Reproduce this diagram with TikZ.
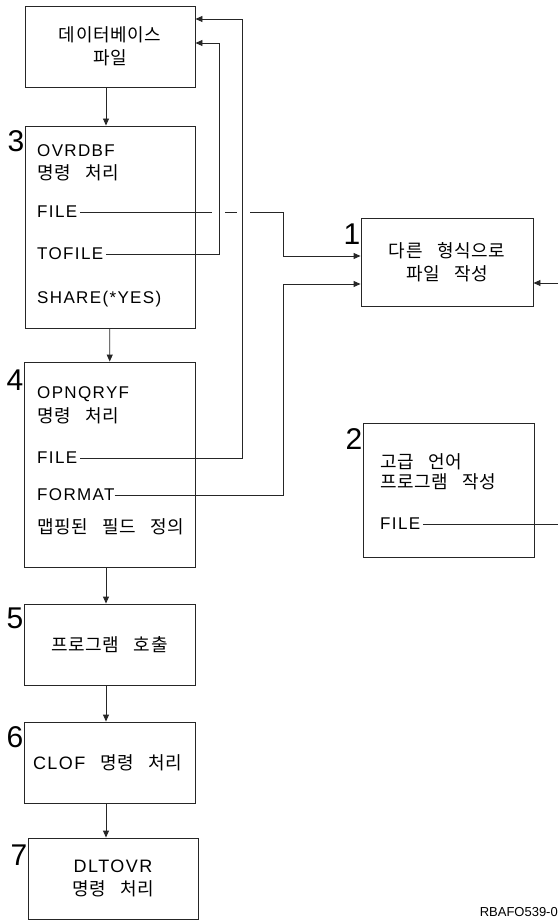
\documentclass[tikz,border=0pt]{standalone}
\usepackage{fontspec}
\setmainfont{Liberation Sans}[LetterSpace=8]
\newfontfamily\kr{Noto Sans CJK KR}[LetterSpace=3,WordSpace=3.2]
\newfontfamily\numfont{Liberation Sans}
\usetikzlibrary{arrows.meta,positioning,calc}
\tikzset{
  box/.style={draw=black!85, line width=0.9pt, minimum width=170pt, minimum height=81pt, inner sep=0pt, align=center, font=\kr\fontsize{18}{23}\selectfont},
  txt/.style={anchor=west, inner xsep=3pt, inner ysep=0pt, font=\fontsize{17}{20}\selectfont},
  krtxt/.style={anchor=west, inner xsep=3pt, inner ysep=0pt, font=\kr\fontsize{18}{20}\selectfont},
  numlab/.style={anchor=base east, inner sep=0pt, font=\numfont\fontsize{30}{30}\selectfont},
  line/.style={draw=black!85, line width=0.9pt},
  arr/.style={line, -{Triangle[length=7pt,width=6pt]}}
}
\begin{document}
\begin{tikzpicture}[x=1pt,y=-1pt]
\useasboundingbox (0,0) rectangle (558,920);
\node[box] (db) at (110,46.5) {데이터베이스\\파일};
\node[box, minimum height=202pt] (b3) at (110,227) {};
\node[box, minimum height=205pt, minimum width=171pt] (b4) at (109.5,464.5) {};
\node[box, minimum width=171pt] (b5) at (109.5,644.5) {프로그램 호출};
\node[box, minimum width=171pt] (b6) at (109.5,762.5) {{\rmfamily CLOF} 명령 처리\hspace*{4pt}};
\node[box] (b7) at (113,878.5) {{\rmfamily DLTOVR}\\명령 처리};
\node[box, minimum width=172pt, minimum height=88pt] (b1) at (447,262) {다른 형식으로\\파일 작성};
\node[box, minimum width=171pt, minimum height=134pt] (b2) at (448.5,490) {};

\node[numlab] at ([yshift=-26pt]b3.north west) {3};
\node[numlab] at ([yshift=-29pt]b4.north west) {4};
\node[numlab] at ([yshift=-25pt]b5.north west) {5};
\node[numlab] at ([yshift=-26pt]b6.north west) {6};
\node[numlab] at ([yshift=-28pt]b7.north west) {7};
\node[numlab] at ([yshift=-27pt]b1.north west) {1};
\node[numlab] at ([yshift=-27pt]b2.north west) {2};

\node[txt] (ovr3) at (34,151) {OVRDBF};
\node[krtxt] (cmd3) at (34,173) {명령 처리};
\node[txt] (file3) at (34,212) {FILE};
\node[txt] (tofile3) at (34,254) {TOFILE};
\node[txt] (share3) at (34,299) {SHARE(*YES)};

\node[txt] (opn4) at (34,394) {OPNQRYF};
\node[krtxt] (cmd4) at (34,416) {명령 처리};
\node[txt] (file4) at (34,458) {FILE};
\node[txt, inner xsep=0pt] (format4) at (37,495) {FORMAT};
\node[krtxt] (map4) at (34,527) {맵핑된 필드 정의};

\node[krtxt] (hl2) at (377,462) {고급 언어};
\node[krtxt] (pg2) at (377,482) {프로그램 작성};
\node[txt] (file2) at (377,524) {FILE};

\node[anchor=east, inner sep=0pt, font=\numfont\fontsize{13}{13}\selectfont] (fig) at (558,912) {RBAFO539-0};

\coordinate (cross) at (212,212);
\coordinate (jog) at (283,256);
\coordinate (uptf) at (219,43);
\coordinate (upf4) at (242,19);
\coordinate (upfm) at (283,284);
\coordinate (redge) at (558,283);

\draw[arr] ([xshift=-4pt]db.south) -- ([xshift=-4pt]db.south |- b3.north);
\draw[arr] (b3) -- (b4);
\draw[arr] ([xshift=-3.5pt]b4.south) -- ([xshift=-3.5pt]b5.north);
\draw[arr] ([xshift=-3.5pt]b5.south) -- ([xshift=-3.5pt]b6.north);
\draw[arr] ([xshift=-3.5pt]b6.south) -- ([xshift=-3.5pt]b6.south |- b7.north);

\draw[line] (file3.east) -- (cross);
\draw[line] ([xshift=13pt]cross) -- ([xshift=25pt]cross);
\draw[arr] ([xshift=38pt]cross) -| (jog) -- (jog -| b1.west);
\draw[arr] (tofile3.east) -| (uptf) -- (uptf -| db.east);
\draw[arr] (file4.east) -| (upf4) -- (upf4 -| db.east);
\draw[arr] (format4.east) -| (upfm) -- (upfm -| b1.west);
\draw[line] (file2.east) -- (file2.east -| redge);
\draw[arr] (redge) -- (redge -| b1.east);
\end{tikzpicture}
\end{document}
